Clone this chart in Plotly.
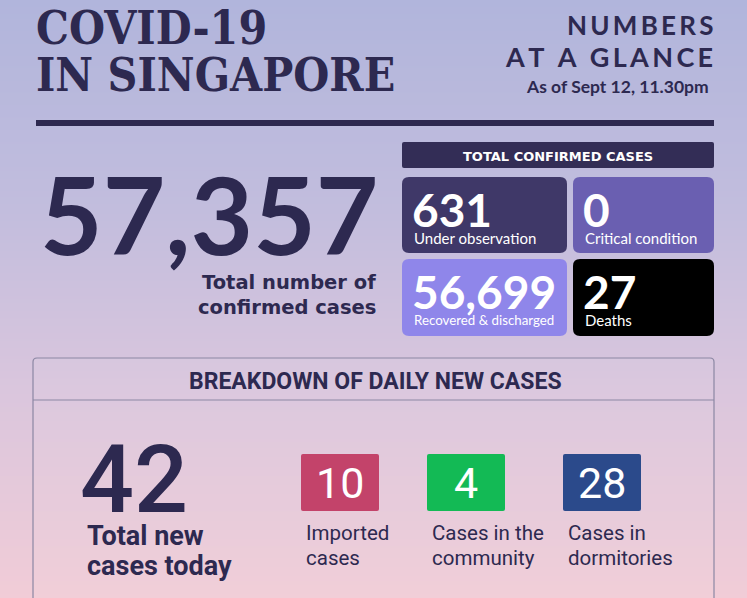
import plotly.graph_objects as go

# ---- data ----
title_lines = ["COVID-19", "IN SINGAPORE"]
subtitle_lines = ["NUMBERS", "AT A GLANCE"]
as_of = "As of Sept 12, 11.30pm"

confirmed_total = 57357
confirmed_label = ["Total number of", "confirmed cases"]

tile_header = "TOTAL CONFIRMED CASES"
tile_values = [631, 0, 56699, 27]
tile_labels = ["Under observation", "Critical condition", "Recovered & discharged", "Deaths"]

breakdown_header = "BREAKDOWN OF DAILY NEW CASES"
new_total = 42
new_total_label = ["Total new", "cases today"]
new_values = [10, 4, 28]
new_labels = [["Imported", "cases"], ["Cases in the", "community"], ["Cases in", "dormitories"]]

# ---- styles ----
W, H = 747, 598
NAVY = "#2d2950"
tile_colors = ["#3f3868", "#6a5fb1", "#8f86ea", "#000000"]
tile_boxes = [(402, 177, 567, 253), (573, 177, 714, 253),
              (402, 259, 567, 336), (573, 259, 714, 336)]
tile_label_size = [15, 15, 13.3, 15]
new_colors = ["#c3436a", "#13ba55", "#2b4a8b"]
new_x = [301, 427, 563]
SANS = "Lato"
WIDE = "DejaVu Sans"
COND = "Roboto"


def rounded_rect(x0, y0, x1, y1, r):
    return (f"M {x0+r},{y0} L {x1-r},{y0} Q {x1},{y0} {x1},{y0+r} "
            f"L {x1},{y1-r} Q {x1},{y1} {x1-r},{y1} L {x0+r},{y1} "
            f"Q {x0},{y1} {x0},{y1-r} L {x0},{y0+r} Q {x0},{y0} {x0+r},{y0} Z")


fig = go.Figure()

# background gradient
rows = list(range(0, H + 1, 2))
fig.add_trace(go.Heatmap(
    x=[0, W], y=rows, z=[[r, r] for r in rows],
    colorscale=[[0, "#b1b5dc"], [0.35, "#c2bddd"], [0.65, "#dac6dd"], [1, "#f1ccd7"]],
    showscale=False, zsmooth="best", hoverinfo="skip"))

shapes = []
ann = []


def text(x, y, s, size, color=NAVY, family=SANS, weight="normal", xanchor="left", yanchor="middle", align="left"):
    ann.append(dict(x=x, y=y, xref="x", yref="y", text=s, showarrow=False,
                    xanchor=xanchor, yanchor=yanchor, align=align,
                    font=dict(size=size, color=color, family=family, weight=weight)))


# title block
TITLE = "DejaVu Serif Condensed, DejaVu Serif"
text(34, 28, title_lines[0], 46, family=TITLE, weight="bold")
text(34, 75, title_lines[1], 46, family=TITLE, weight="bold")
sp = "\u2009"
text(715, 25, sp.join(subtitle_lines[0]), 26, weight="bold", xanchor="right")
text(715, 56, sp.join(subtitle_lines[1]), 27, weight="bold", xanchor="right")
text(711, 86, as_of, 17.5, weight="bold", xanchor="right")
shapes.append(dict(type="rect", x0=36, x1=714, y0=120, y1=126, fillcolor=NAVY, line_width=0, layer="above"))

# big total
text(209, 213, f"{confirmed_total:,}", 108, weight="bold", xanchor="center")
text(378, 282, confirmed_label[0], 19.5, family=WIDE, weight="bold", xanchor="right")
text(378, 307, confirmed_label[1], 19.5, family=WIDE, weight="bold", xanchor="right")

# tile header + tiles
shapes.append(dict(type="path", path=rounded_rect(402, 142, 714, 168, 2), fillcolor="#332d56", line_width=0))
text(558, 156, tile_header, 13, color="white", family=WIDE, weight="bold", xanchor="center")
for (x0, y0, x1, y1), v, lab, c, ls in zip(tile_boxes, tile_values, tile_labels, tile_colors, tile_label_size):
    shapes.append(dict(type="path", path=rounded_rect(x0, y0, x1, y1, 7), fillcolor=c, line_width=0))
    text(x0 + 8, y0 + 32, f"{v:,}", 46, color="white", weight="bold")
    text(x0 + 10, y0 + 61, lab, ls, color="white")

# breakdown panel
shapes.append(dict(type="path", path=rounded_rect(33, 358, 714, 640, 4), line=dict(color="#8b87a3", width=1.2),
                   fillcolor="rgba(255,255,255,0.04)"))
shapes.append(dict(type="line", x0=33, x1=714, y0=400, y1=400, line=dict(color="#8b87a3", width=1.2)))
text(375, 381, breakdown_header, 23, family=COND, weight="bold", xanchor="center")

text(78, 479, f"{new_total}", 95, family=COND, weight=500)
text(85, 536, new_total_label[0], 27, family=COND, weight="bold")
text(85, 566, new_total_label[1], 27, family=COND, weight="bold")

for x0, v, lab, c in zip(new_x, new_values, new_labels, new_colors):
    shapes.append(dict(type="path", path=rounded_rect(x0, 454, x0 + 78, 511, 2), fillcolor=c, line_width=0))
    text(x0 + 39, 483, f"{v}", 43, color="white", family=COND, weight="normal", xanchor="center")
    text(x0 + 3, 533, lab[0], 20.5, family=COND)
    text(x0 + 3, 558, lab[1], 20.5, family=COND)

fig.update_layout(
    width=W, height=H, margin=dict(l=0, r=0, t=0, b=0),
    xaxis=dict(range=[0, W], visible=False, fixedrange=True),
    yaxis=dict(range=[H, 0], visible=False, fixedrange=True),
    shapes=shapes, annotations=ann,
    plot_bgcolor="#c8c0dc", paper_bgcolor="#c8c0dc",
    showlegend=False)

fig.write_html("out.html", config={"displayModeBar": False},
               post_script="document.body.style.margin='0';document.body.style.overflow='hidden';")
